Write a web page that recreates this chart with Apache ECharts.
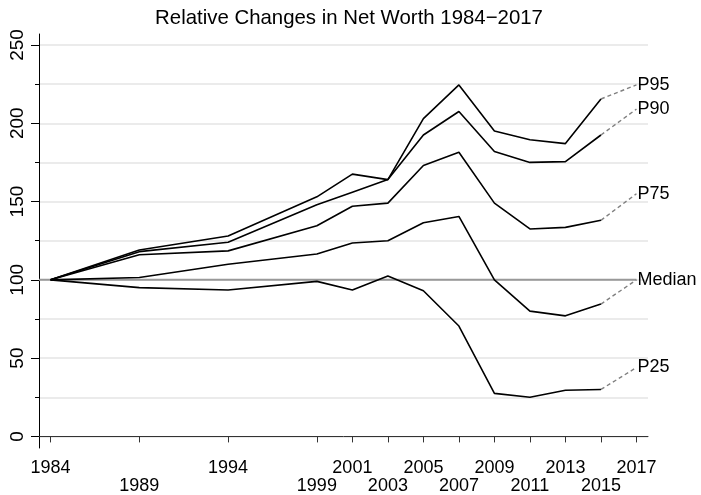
<!DOCTYPE html>
<html>
<head>
<meta charset="utf-8">
<script src="https://cdn.jsdelivr.net/npm/echarts@6/dist/echarts.min.js"></script>
<style>
  html, body { margin: 0; padding: 0; background: #fff; }
  #chart { width: 701px; height: 495px; }
</style>
</head>
<body>
<div id="chart"></div>
<script>
// Survey years and index values (1984 = 100)
const years = [1984, 1989, 1994, 1999, 2001, 2003, 2005, 2007, 2009, 2011, 2013, 2015];
const p95 = [100, 119, 128, 153, 167.5, 164, 203, 224.5, 195, 189.5, 187, 215.5];
const p90 = [100, 118, 124, 148, 156, 164, 192.5, 207.5, 182, 175, 175.5, 192.5];
const p75 = [100, 116, 118.5, 134.5, 147, 149, 173, 181.5, 149, 132.5, 133.5, 138];
const median = [100, 101.5, 110, 116.5, 123.5, 125, 136.5, 140.5, 100, 80, 77, 84.5];
const p25 = [100, 95, 93.5, 99, 93.5, 102.5, 93, 70.5, 27.5, 25, 29.5, 30];

// Final year, drawn as a dashed extension
const endYear = 2017;
const seriesNames = ['P95', 'P90', 'P75', 'Median', 'P25'];
const endValues = [224.5, 209, 155, 100, 44];

// Axis ticks; year labels alternate between two rows
const xTicks = [1984, 1989, 1994, 1999, 2001, 2003, 2005, 2007, 2009, 2011, 2013, 2015, 2017];
const xRowTop = [1984, 1994, 2001, 2005, 2009, 2013, 2017];
const xRowBottom = [1989, 1999, 2003, 2007, 2011, 2015];
const yMajor = [0, 50, 100, 150, 200, 250];
const yMinor = [0, 25, 50, 75, 100, 125, 150, 175, 200, 225, 250];
const baseline = 100;

const FONT = 'Liberation Sans, Arial, Helvetica, sans-serif';
const allSeries = [p95, p90, p75, median, p25];
const X_MIN = 1983.35, X_MAX = 2017.65;
const Y_MIN = -7.4, Y_MAX = 257;

const chart = echarts.init(document.getElementById('chart'), null, { renderer: 'canvas' });

const series = [];

// Horizontal reference at the 1984 level
series.push({
  type: 'line',
  data: [[X_MIN, baseline], [endYear, baseline]],
  symbol: 'none',
  silent: true,
  lineStyle: { color: '#999999', width: 2 },
  z: 1
});

allSeries.forEach((vals, i) => {
  series.push({
    name: seriesNames[i],
    type: 'line',
    data: years.map((y, k) => [y, vals[k]]),
    symbol: 'none',
    lineStyle: { color: '#000000', width: 1.6 },
    z: 3
  });
  series.push({
    name: seriesNames[i] + '-end',
    type: 'line',
    data: [[years[years.length - 1], vals[vals.length - 1]], [endYear, endValues[i]]],
    symbol: 'none',
    lineStyle: { color: '#808080', width: 1.4, type: [4, 3] },
    endLabel: {
      show: true,
      formatter: () => seriesNames[i],
      color: '#000000',
      fontFamily: FONT,
      fontSize: 18,
      distance: 1
    },
    z: 2
  });
});

const xLabelStyle = {
  show: true,
  showMinLabel: true,
  showMaxLabel: true,
  hideOverlap: false,
  fontFamily: FONT,
  fontSize: 18,
  color: '#000000',
  formatter: (v) => String(Math.round(v))
};

chart.setOption({
  animation: false,
  backgroundColor: '#ffffff',
  title: {
    text: 'Relative Changes in Net Worth 1984\u22122017',
    left: 344,
    textAlign: 'center',
    top: 3,
    textStyle: { fontFamily: FONT, fontSize: 20.4, fontWeight: 'normal', color: '#000000' }
  },
  grid: { left: 39, right: 53, top: 34, bottom: 46, containLabel: false },
  xAxis: [
    {
      type: 'value',
      min: X_MIN,
      max: X_MAX,
      position: 'bottom',
      axisLine: { show: true, lineStyle: { color: '#333333', width: 1 } },
      axisTick: { show: true, customValues: xTicks, length: 6, lineStyle: { color: '#333333', width: 1 } },
      axisLabel: Object.assign({}, xLabelStyle, { customValues: xRowTop, margin: 11 }),
      splitLine: { show: false }
    },
    {
      type: 'value',
      min: X_MIN,
      max: X_MAX,
      position: 'bottom',
      offset: 0,
      axisLine: { show: false },
      axisTick: { show: false },
      axisLabel: Object.assign({}, xLabelStyle, { customValues: xRowBottom, margin: 29 }),
      splitLine: { show: false }
    }
  ],
  yAxis: [
    {
      type: 'value',
      min: Y_MIN,
      max: Y_MAX,
      position: 'left',
      axisLine: { show: false },
      axisTick: { show: true, customValues: yMinor, length: 4, lineStyle: { color: '#000000', width: 1 } },
      axisLabel: { show: false },
      splitLine: { show: true, lineStyle: { color: '#e4e4e4', width: 1.5 } }
    },
    {
      type: 'value',
      min: Y_MIN,
      max: Y_MAX,
      position: 'left',
      axisLine: { show: true, lineStyle: { color: '#000000', width: 1 } },
      axisTick: { show: true, customValues: yMajor, length: 8, lineStyle: { color: '#000000', width: 1 } },
      axisLabel: {
        show: true,
        customValues: yMajor,
        rotate: 90,
        margin: 12,
        fontFamily: FONT,
        fontSize: 19,
        color: '#000000'
      },
      splitLine: { show: false }
    }
  ],
  series: series
});
</script>
</body>
</html>
